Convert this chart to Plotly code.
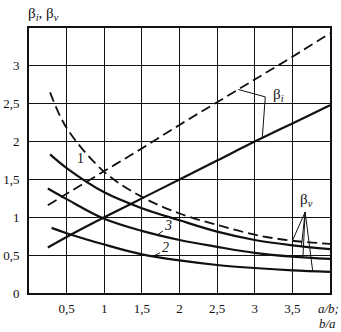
import numpy as np
import plotly.graph_objects as go

# abscissa: a/b (for beta_i) and b/a (for beta_v)
x_bi = [0.25, 0.5, 1.0, 1.5, 2.0, 2.5, 3.0, 3.5, 4.0]
bi_dashed = [1.16, 1.31, 1.61, 1.91, 2.22, 2.52, 2.82, 3.12, 3.43]
bi_solid = [0.60, 0.74, 1.00, 1.25, 1.50, 1.75, 2.00, 2.24, 2.48]

x_bv = [0.28, 0.5, 1.0, 1.5, 2.0, 2.5, 3.0, 3.5, 4.0]
bv_dashed = [2.65, 2.18, 1.60, 1.27, 1.05, 0.90, 0.77, 0.69, 0.65]
bv_curve1 = [1.83, 1.65, 1.33, 1.12, 0.96, 0.81, 0.70, 0.63, 0.58]
x_bv3 = [0.25, 0.5, 1.0, 1.5, 2.0, 2.5, 3.0, 3.5, 4.0]
bv_curve3 = [1.38, 1.24, 0.98, 0.82, 0.70, 0.61, 0.53, 0.48, 0.45]
x_bv2 = [0.30, 0.5, 1.0, 1.5, 2.0, 2.5, 3.0, 3.5, 4.0]
bv_curve2 = [0.86, 0.79, 0.64, 0.51, 0.43, 0.37, 0.33, 0.30, 0.28]

x_ticks = [0.5, 1.0, 1.5, 2.0, 2.5, 3.0, 3.5]
x_ticktext = ["0,5", "1", "1,5", "2", "2,5", "3", "3,5"]
y_ticks = [0, 0.5, 1.0, 1.5, 2.0, 2.5, 3.0]
y_ticktext = ["0", "0,5", "1", "1,5", "2", "2,5", "3"]

FONT = "Liberation Serif"
INK = "#111111"

fig = go.Figure()

def add_line(x, y, dash=None, width=2.0):
    fig.add_trace(go.Scatter(
        x=x, y=y, mode="lines", line_shape="spline",
        line=dict(color=INK, width=width, dash=dash),
        hoverinfo="skip", showlegend=False))

add_line(x_bi, bi_dashed, dash="10px,5px", width=1.8)
add_line(x_bi, bi_solid, width=2.2)
add_line(x_bv, bv_dashed, dash="10px,5px", width=1.8)
add_line(x_bv, bv_curve1, width=2.2)
add_line(x_bv3, bv_curve3, width=2.2)
add_line(x_bv2, bv_curve2, width=2.2)

shapes = []

def leader(x0, y0, x1, y1):
    shapes.append(dict(type="line", xref="x", yref="y", x0=x0, y0=y0,
                       x1=x1, y1=y1, line=dict(color=INK, width=1)))

# beta_i callout: corner point joined to both rising lines
cx, cy = 3.14, 2.59
leader(cx, cy, 2.78, float(np.interp(2.78, x_bi, bi_dashed)))
leader(cx, cy, 3.10, float(np.interp(3.10, x_bi, bi_solid)))

# beta_v callout: apex joined to the four falling curves
ax, ay = 3.67, 1.07
leader(ax, ay, 3.50, float(np.interp(3.50, x_bv, bv_dashed)))
leader(ax, ay, 3.62, float(np.interp(3.62, x_bv, bv_curve1)))
leader(ax, ay, 3.64, float(np.interp(3.64, x_bv3, bv_curve3)))
leader(ax, ay, 3.77, float(np.interp(3.77, x_bv2, bv_curve2)))

# short ticks from the curve numbers
leader(1.78, 0.82, 1.71, float(np.interp(1.71, x_bv3, bv_curve3)))
leader(1.74, 0.53, 1.65, float(np.interp(1.65, x_bv2, bv_curve2)))

annotations = [
    dict(text="β<sub><i>i</i></sub>, β<sub><i>v</i></sub>", x=26, y=318,
         xref="paper", yref="paper", showarrow=False, xanchor="left", yanchor="middle",
         font=dict(size=15, family=FONT, color=INK)),
    dict(text="β<sub><i>i</i></sub>", x=3.31, y=2.62, xref="x", yref="y",
         showarrow=False, font=dict(size=15, family=FONT, color=INK)),
    dict(text="β<sub><i>v</i></sub>", x=3.69, y=1.23, xref="x", yref="y",
         showarrow=False, font=dict(size=15, family=FONT, color=INK)),
    dict(text="1", x=0.68, y=1.78, xref="x", yref="y", showarrow=False,
         font=dict(size=14, family=FONT, color=INK)),
    dict(text="<i>3</i>", x=1.85, y=0.89, xref="x", yref="y", showarrow=False,
         font=dict(size=14, family=FONT, color=INK)),
    dict(text="<i>2</i>", x=1.81, y=0.60, xref="x", yref="y", showarrow=False,
         font=dict(size=14, family=FONT, color=INK)),
    dict(text="<i>a/b;</i>", x=341, y=24, xref="paper", yref="paper",
         showarrow=False, xanchor="right", yanchor="middle",
         font=dict(size=13, family=FONT, color=INK)),
    dict(text="<i>b/a</i>", x=338, y=9, xref="paper", yref="paper",
         showarrow=False, xanchor="right", yanchor="middle",
         font=dict(size=13, family=FONT, color=INK)),
]

# pixel-positioned texts: convert to paper coordinates
W, H = 341, 332
ML, MR, MT, MB = 29, 11, 28, 39
pw, ph = W - ML - MR, H - MT - MB
for a in annotations:
    if a["xref"] == "paper":
        a["x"] = (a["x"] - ML) / pw
        a["y"] = (a["y"] - MB) / ph

fig.update_layout(
    width=W, height=H,
    margin=dict(l=ML, r=MR, t=MT, b=MB, autoexpand=False),
    paper_bgcolor="white", plot_bgcolor="white",
    font=dict(family=FONT, size=13, color=INK),
    shapes=shapes, annotations=annotations,
    xaxis=dict(range=[0, 4], tickvals=x_ticks, ticktext=x_ticktext,
               showgrid=True, gridcolor=INK, gridwidth=1.2, zeroline=False,
               showline=True, linecolor=INK, linewidth=1.6, mirror=True,
               ticks="", ticklabelstandoff=3, automargin=False,
               tickfont=dict(size=13, family=FONT, color=INK)),
    yaxis=dict(range=[0, 3.5], tickvals=y_ticks, ticktext=y_ticktext,
               showgrid=True, gridcolor=INK, gridwidth=1.2, zeroline=False,
               showline=True, linecolor=INK, linewidth=1.6, mirror=True,
               ticks="", ticklabelstandoff=5, automargin=False,
               tickfont=dict(size=13, family=FONT, color=INK)),
)

fig.write_html("out.html")
